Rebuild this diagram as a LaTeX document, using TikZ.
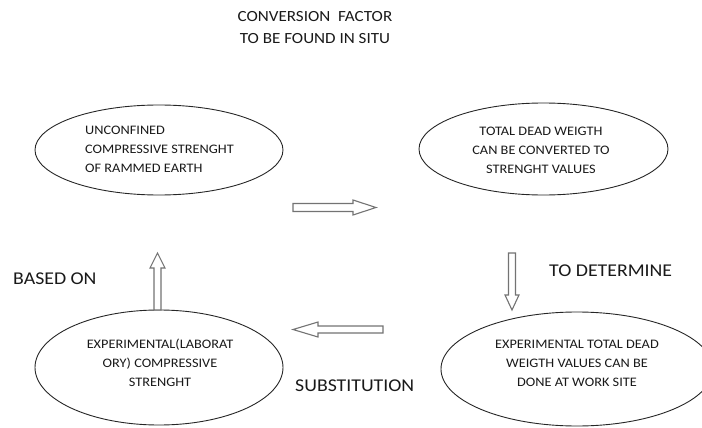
\documentclass[tikz,border=0pt]{standalone}
\usepackage{fontspec}
\setmainfont{Carlito}[FakeStretch=1.1]
\usetikzlibrary{shapes.geometric}
\begin{document}
\begin{tikzpicture}[x=1pt,y=-1pt,
  oval/.style={draw=black!85, line width=0.9pt, ellipse, inner sep=0pt},
  etext/.style={font=\fontsize{13}{19}\selectfont, align=center, text=black!90},
  lbl/.style={font=\fontsize{18}{20}\selectfont, text=black!90, anchor=west, inner sep=0pt},
  blockarrow/.style={draw=black!55, line width=1.1pt, fill=white, line join=miter}]
\useasboundingbox (0,0) rectangle (702,428);
\clip (0,0) rectangle (702,428);

% title
\node[font=\fontsize{15.5}{22}\selectfont, align=center, text=black!90] (title) at (315,28)
  {CONVERSION\ \ FACTOR\\TO BE FOUND IN SITU};

% ellipses
\node[oval, minimum width=248, minimum height=90] (e1) at (159,150) {};
\node[etext, align=left] (t1) at (159.5,149.5) {UNCONFINED\\COMPRESSIVE STRENGHT\\OF RAMMED EARTH};

\node[oval, minimum width=249, minimum height=92] (e2) at (543.5,149) {};
\node[etext] (t2) at (541,150) {TOTAL DEAD WEIGTH\\CAN BE CONVERTED TO\\STRENGHT VALUES};

\node[oval, minimum width=248, minimum height=115] (e3) at (159,367.5) {};
\node[etext] (t3) at (160,363) {EXPERIMENTAL(LABORAT\\ORY) COMPRESSIVE\\STRENGHT};

\node[oval, minimum width=272, minimum height=114] (e4) at (577,369) {};
\node[etext] (t4) at (577,363) {EXPERIMENTAL TOTAL DEAD\\WEIGTH VALUES CAN BE\\DONE AT WORK SITE};

% block arrows
\coordinate (ra) at (293,207.5);
\draw[blockarrow] (ra) ++(0,-4) -- ++(60,0) -- ++(0,-3.5) -- ++(23,7.5) -- ++(-23,7.5) -- ++(0,-3.5) -- ++(-60,0) -- cycle;
\coordinate (da) at (512,253);
\draw[blockarrow] (da) ++(-3.5,0) -- ++(0,42) -- ++(-3.5,0) -- ++(7,15) -- ++(7,-15) -- ++(-3.5,0) -- ++(0,-42) -- cycle;
\coordinate (ua) at (157.5,310);
\draw[blockarrow] (ua) ++(-3.5,0) -- ++(0,-42) -- ++(-4,0) -- ++(7.5,-15) -- ++(7.5,15) -- ++(-4,0) -- ++(0,42) -- cycle;
\coordinate (la) at (383,329.5);
\draw[blockarrow] (la) ++(0,-3.5) -- ++(-65,0) -- ++(0,-4) -- ++(-25,7.5) -- ++(25,7.5) -- ++(0,-4) -- ++(65,0) -- cycle;

% labels
\node[lbl] (l1) at (13,279) {BASED ON};
\node[lbl] (l2) at (549,271) {TO DETERMINE};
\node[lbl] (l3) at (295,386) {SUBSTITUTION};
\end{tikzpicture}
\end{document}
